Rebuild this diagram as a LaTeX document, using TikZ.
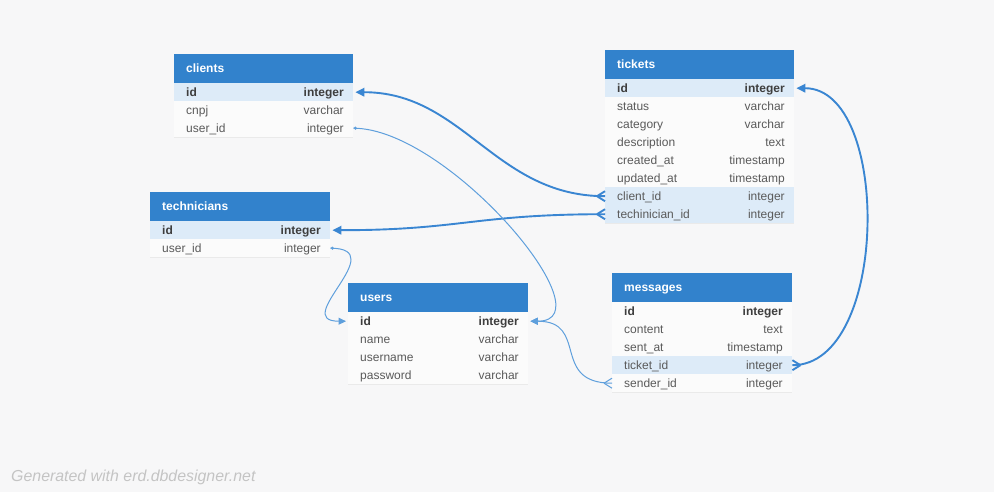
\documentclass[tikz,border=0pt]{standalone}
\usepackage{fontspec}
\setmainfont{Liberation Sans}
\usetikzlibrary{arrows.meta,calc}
\definecolor{canvas}{HTML}{F7F7F8}
\definecolor{hdrblue}{HTML}{3282CC}
\definecolor{rowbg}{HTML}{FBFBFB}
\definecolor{hlbg}{HTML}{DDEBF8}
\definecolor{divcol}{HTML}{EAEAEA}
\definecolor{fieldtext}{HTML}{5A5A5A}
\definecolor{idtext}{HTML}{3E3E3E}
\definecolor{thickblue}{HTML}{3A86D2}
\definecolor{thinblue}{HTML}{5E9FDC}
\definecolor{footgray}{HTML}{C4C4C4}
\tikzset{
  hdr/.style={rectangle, fill=hdrblue, draw=none, minimum height=29pt, inner sep=0pt, anchor=north west},
  hdrtext/.style={anchor=west, text=white, font=\bfseries\fontsize{12}{14}\selectfont, inner sep=0pt, text height=8.5pt, text depth=2.5pt, yshift=-1pt},
  row/.style={rectangle, draw=none, minimum height=18pt, inner sep=0pt, anchor=north west},
  divider/.style={draw=divcol, line width=0.8pt},
  fname/.style={anchor=west, inner sep=0pt, text=fieldtext, font=\fontsize{12}{14}\selectfont, text height=8.5pt, text depth=2.5pt, yshift=-1pt},
  ftype/.style={anchor=east, inner sep=0pt, text=fieldtext, font=\fontsize{12}{14}\selectfont, text height=8.5pt, text depth=2.5pt, yshift=-1pt},
  plain/.style={fill=rowbg}, hl/.style={fill=hlbg},
  idrow/.style={fill=rowbg}, idhl/.style={fill=hlbg},
  plain-txt/.style={}, hl-txt/.style={},
  idrow-txt/.style={text=idtext, font=\bfseries\fontsize{12}{14}\selectfont},
  idhl-txt/.style={text=idtext, font=\bfseries\fontsize{12}{14}\selectfont},
  thickc/.style={draw=thickblue, line width=1.9pt},
  thinc/.style={draw=thinblue, line width=1pt},
  bigtip/.style={-{Triangle[length=9pt,width=8.5pt]}, shorten >=2pt},
  smalltip/.style={-{Triangle[length=7.5pt,width=7pt]}, shorten >=2pt},
  footer/.style={text=footgray, font=\itshape\fontsize{15.9}{18}\selectfont, inner sep=0pt}
}
\newcommand\ertable[5]{%
  \node[hdr, minimum width=#4pt] (#1) at (#2,#3) {};
  \node[hdrtext] (#1-title) at ([xshift=12pt]#1.west) {#1};
  \foreach \n/\f/\t/\s [count=\i] in {#5} {
    \node[row, \s, minimum width=#4pt] (#1-\n) at (#2,#3+29+\i*18-18) {};
    \draw[divider] (#1-\n.south west) -- (#1-\n.south east);
    \node[fname, \s-txt] (#1-\n-name) at ([xshift=12pt]#1-\n.west) {\f};
    \node[ftype, \s-txt] (#1-\n-type) at ([xshift=-9.5pt]#1-\n.east) {\t};
  }%
}
\newcommand\crowleft[2]{% crow's foot opening to the right, at point #1, colour style #2
  \draw[#2] ([xshift=-8pt]#1) -- ([yshift=5pt]#1) ([xshift=-8pt]#1) -- ([yshift=-5pt]#1);}
\newcommand\crowright[2]{%
  \draw[#2] ([xshift=8pt]#1) -- ([yshift=5pt]#1) ([xshift=8pt]#1) -- ([yshift=-5pt]#1);}
\begin{document}
\begin{tikzpicture}[x=1pt,y=-1pt]
\fill[canvas] (0,0) rectangle (994,492);
\useasboundingbox (0,0) rectangle (994,492);

\ertable{clients}{174}{54}{179}{id/id/integer/idhl, cnpj/cnpj/varchar/plain, userid/user\_id/integer/plain}
\ertable{tickets}{605}{50}{189}{id/id/integer/idhl, status/status/varchar/plain, category/category/varchar/plain, description/description/text/plain, createdat/created\_at/timestamp/plain, updatedat/updated\_at/timestamp/plain, clientid/client\_id/integer/hl, techid/techinician\_id/integer/hl}
\ertable{technicians}{150}{192}{180}{id/id/integer/idhl, userid/user\_id/integer/plain}
\ertable{users}{348}{283}{180}{id/id/integer/idrow, name/name/varchar/plain, username/username/varchar/plain, password/password/varchar/plain}
\ertable{messages}{612}{273}{180}{id/id/integer/idrow, content/content/text/plain, sentat/sent\_at/timestamp/plain, ticketid/ticket\_id/integer/hl, senderid/sender\_id/integer/plain}

% thick connectors
\draw[thickc, bigtip] (tickets-clientid.west) .. controls +(-110,0) and +(110,0) .. (clients-id.east);
\crowleft{tickets-clientid.west}{thickc}
\draw[thickc, bigtip] (tickets-techid.west) .. controls +(-130,0) and +(130,0) .. (technicians-id.east);
\crowleft{tickets-techid.west}{thickc}
\draw[thickc, bigtip] (messages-ticketid.east) .. controls +(97,0) and +(97,0) .. (tickets-id.east);
\crowright{messages-ticketid.east}{thickc}

% thin connectors
\draw[thinc, smalltip] (clients-userid.east) .. controls +(95,0) and +(82,0) .. (users-id.east);
\fill[thinblue] ([xshift=2pt]clients-userid.east) circle (1.7pt);
\draw[thinc, smalltip] (technicians-userid.east) .. controls +(62,0) and +(-58,0) .. (users-id.west);
\fill[thinblue] ([xshift=2pt]technicians-userid.east) circle (1.7pt);
\draw[thinc, smalltip] (messages-senderid.west) .. controls +(-62,0) and +(61,0) .. (users-id.east);
\crowleft{messages-senderid.west}{thinc}

\node[footer, anchor=base west] (gen) at (11,481) {Generated with erd.dbdesigner.net};
\end{tikzpicture}
\end{document}
